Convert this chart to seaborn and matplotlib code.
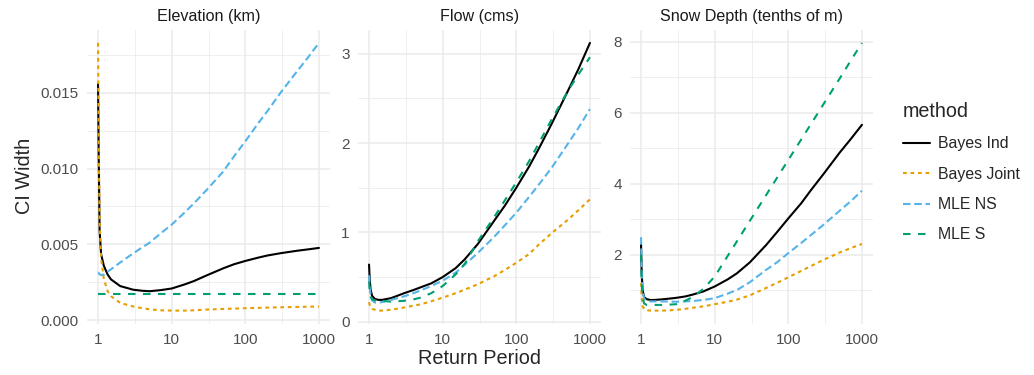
import matplotlib
matplotlib.use("Agg")
import matplotlib.pyplot as plt
from matplotlib.ticker import MultipleLocator, FormatStrFormatter, NullFormatter
import pandas as pd
import seaborn as sns

# return periods (x) shared by every curve
return_period = [1.0, 1.02, 1.05, 1.1, 1.2, 1.35, 1.5, 2, 3, 4, 5, 7, 10, 15, 20,
                 30, 50, 70, 100, 150, 200, 300, 500, 700, 1000]

methods = ["Bayes Ind", "Bayes Joint", "MLE NS", "MLE S"]
variables = ["Elevation (km)", "Flow (cms)", "Snow Depth (tenths of m)"]

# Elevation (km)
elev_bayes_ind = [0.0156, 0.0110, 0.0059, 0.00435, 0.00357, 0.0030, 0.00268, 0.00224, 0.0020, 0.00193,
                  0.0019, 0.00197, 0.00208, 0.00235, 0.00257, 0.00295, 0.00341, 0.00368, 0.0039,
                  0.00412, 0.00426, 0.00441, 0.00457, 0.00466, 0.00476]
elev_bayes_joint = [0.0183, 0.0120, 0.0065, 0.0041, 0.0027, 0.0019, 0.00157, 0.00113, 0.00089, 0.00078,
                    0.00071, 0.00064, 0.00062, 0.00062, 0.00064, 0.00069, 0.00073, 0.00075, 0.00078,
                    0.0008, 0.00082, 0.00084, 0.00086, 0.00088, 0.00089]
elev_mle_ns = [0.00313, 0.0031, 0.00302, 0.00297, 0.0030, 0.0032, 0.00335, 0.0038, 0.0044, 0.0048,
               0.0051, 0.0057, 0.0063, 0.0071, 0.0077, 0.0086, 0.0098, 0.0108, 0.0118,
               0.0130, 0.0138, 0.0150, 0.0164, 0.0173, 0.0183]
elev_mle_s = [0.00175, 0.00175, 0.00175, 0.00175, 0.00175, 0.00175, 0.00175, 0.00175, 0.00175, 0.00175,
              0.00175, 0.00175, 0.00175, 0.00175, 0.00175, 0.00175, 0.00175, 0.00175, 0.00175,
              0.00175, 0.00175, 0.00175, 0.00175, 0.00175, 0.00175]

# Flow (cms)
flow_bayes_ind = [0.64, 0.48, 0.36, 0.29, 0.255, 0.245, 0.245, 0.265, 0.32, 0.355,
                  0.385, 0.43, 0.50, 0.60, 0.70, 0.87, 1.13, 1.30, 1.50,
                  1.74, 1.93, 2.21, 2.58, 2.83, 3.12]
flow_bayes_joint = [0.22, 0.19, 0.16, 0.145, 0.135, 0.125, 0.125, 0.135, 0.16, 0.18,
                    0.195, 0.23, 0.27, 0.32, 0.36, 0.42, 0.51, 0.58, 0.66,
                    0.76, 0.86, 0.99, 1.14, 1.25, 1.37]
flow_mle_ns = [0.52, 0.40, 0.30, 0.24, 0.215, 0.215, 0.22, 0.245, 0.285, 0.32,
               0.35, 0.40, 0.46, 0.55, 0.64, 0.77, 0.95, 1.08, 1.22,
               1.40, 1.53, 1.72, 1.99, 2.17, 2.38]
flow_mle_s = [0.45, 0.35, 0.28, 0.25, 0.24, 0.235, 0.235, 0.225, 0.235, 0.25,
              0.27, 0.32, 0.40, 0.53, 0.65, 0.90, 1.17, 1.36, 1.56,
              1.80, 1.99, 2.26, 2.58, 2.77, 2.96]

# Snow Depth (tenths of m)
snow_bayes_ind = [2.28, 1.5, 1.0, 0.80, 0.74, 0.72, 0.72, 0.74, 0.78, 0.82,
                  0.87, 0.96, 1.10, 1.30, 1.47, 1.78, 2.27, 2.63, 3.02,
                  3.45, 3.80, 4.27, 4.88, 5.25, 5.66]
snow_bayes_joint = [1.2, 0.8, 0.55, 0.46, 0.43, 0.42, 0.42, 0.42, 0.44, 0.47,
                    0.50, 0.54, 0.60, 0.67, 0.73, 0.85, 1.06, 1.20, 1.36,
                    1.54, 1.67, 1.85, 2.06, 2.18, 2.30]
snow_mle_ns = [2.49, 1.6, 1.0, 0.76, 0.69, 0.68, 0.68, 0.68, 0.67, 0.68,
               0.69, 0.72, 0.77, 0.90, 1.0, 1.22, 1.57, 1.78, 2.04,
               2.33, 2.54, 2.84, 3.24, 3.50, 3.80]
snow_mle_s = [2.0, 1.2, 0.8, 0.62, 0.58, 0.58, 0.58, 0.58, 0.60, 0.70,
              0.80, 1.03, 1.38, 1.96, 2.37, 2.95, 3.68, 4.16, 4.67,
              5.25, 5.66, 6.24, 6.97, 7.46, 7.97]


def build_frame():
    curves = {
        "Elevation (km)": [elev_bayes_ind, elev_bayes_joint, elev_mle_ns, elev_mle_s],
        "Flow (cms)": [flow_bayes_ind, flow_bayes_joint, flow_mle_ns, flow_mle_s],
        "Snow Depth (tenths of m)": [snow_bayes_ind, snow_bayes_joint, snow_mle_ns, snow_mle_s],
    }
    rows = []
    for var, series in curves.items():
        for method, values in zip(methods, series):
            for rp, v in zip(return_period, values):
                rows.append({"variable": var, "method": method, "return_period": rp, "ci_width": v})
    return pd.DataFrame(rows)


def main():
    data = build_frame()

    sns.set_style("white")
    plt.rcParams["font.family"] = ["Liberation Sans", "DejaVu Sans"]

    palette = {"Bayes Ind": "black", "Bayes Joint": "#E69F00", "MLE NS": "#56B4E9", "MLE S": "#009E73"}
    # ggplot-like linetypes "22", "42", "44"
    dashes = {"Bayes Ind": "", "Bayes Joint": (1.8, 1.8), "MLE NS": (3.6, 1.8), "MLE S": (3.6, 3.6)}

    W, H = 1034, 375
    fig = plt.figure(figsize=(W / 100, H / 100), dpi=100)

    lefts = [87, 358, 630]
    panel_w, top, bottom = 243, 29.5, 324
    major_step = [0.005, 1, 2]
    minor_step = [0.0025, 0.5, 1]
    fmt = ["%.3f", "%d", "%d"]

    handles, labels = None, None
    for i, var in enumerate(variables):
        ax = fig.add_axes([lefts[i] / W, 1 - bottom / H, panel_w / W, (bottom - top) / H])
        sub = data[data["variable"] == var]
        sns.lineplot(data=sub, x="return_period", y="ci_width", hue="method", style="method",
                     palette=palette, dashes=dashes, hue_order=methods, style_order=methods,
                     linewidth=1.5, legend=(i == 0), ax=ax)
        if i == 0:
            leg = ax.get_legend()
            handles = leg.legend_handles
            labels = [t.get_text() for t in leg.get_texts()]
            leg.remove()

        ax.set_xscale("log")
        ax.set_xlim(10 ** -0.15, 10 ** 3.15)
        ax.set_xticks([1, 10, 100, 1000], labels=["1", "10", "100", "1000"])
        ax.set_xticks([10 ** 0.5, 10 ** 1.5, 10 ** 2.5], minor=True)
        ax.xaxis.set_minor_formatter(NullFormatter())
        ax.yaxis.set_major_locator(MultipleLocator(major_step[i]))
        ax.yaxis.set_minor_locator(MultipleLocator(minor_step[i]))
        ax.yaxis.set_major_formatter(FormatStrFormatter(fmt[i]))

        ax.grid(which="major", color="#EBEBEB", linewidth=1.1)
        ax.grid(which="minor", color="#EBEBEB", linewidth=0.55)
        ax.set_axisbelow(True)
        for s in ax.spines.values():
            s.set_visible(False)
        ax.tick_params(which="both", length=0, labelsize=11, labelcolor="#4D4D4D")
        ax.tick_params(axis="y", pad=6.0)
        ax.tick_params(axis="x", pad=6.5)
        ax.set_xlabel("")
        ax.set_ylabel("")
        ax.set_title(var, fontsize=11.6, color="#1A1A1A", pad=6.3)

    fig.text(24 / W, 1 - 176 / H, "CI Width", rotation=90, ha="center", va="center", fontsize=14.3)
    fig.text(480 / W, 1 - 358 / H, "Return Period", ha="center", va="center", fontsize=14.3)

    fig.legend(handles, labels, title="method", loc="upper left",
               bbox_to_anchor=(903 / W, 1 - 102 / H), frameon=False,
               fontsize=11.4, title_fontsize=14.2, alignment="left",
               handlelength=1.7, handletextpad=0.5, labelspacing=0.97,
               borderpad=0, borderaxespad=0)

    fig.savefig("out.png", dpi=100, facecolor="white")


if __name__ == "__main__":
    main()
